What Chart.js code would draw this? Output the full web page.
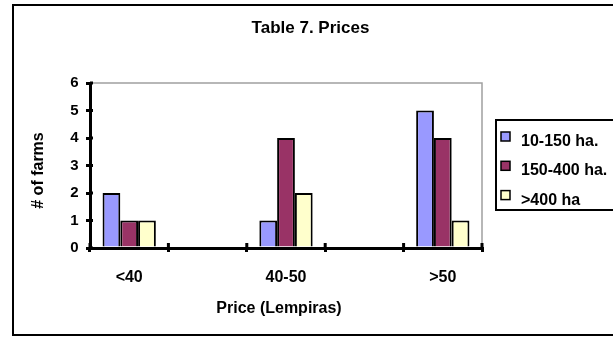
<!DOCTYPE html>
<html>
<head>
<meta charset="utf-8">
<script src="https://cdn.jsdelivr.net/npm/chart.js@4/dist/chart.umd.min.js"></script>
<style>
  html, body { margin: 0; padding: 0; background: #fff; }
  canvas { display: block; }
</style>
</head>
<body>
<canvas id="chart" width="613" height="337"></canvas>
<script>
// Chart text
const chartTitle = 'Table 7. Prices';
const xTitle = 'Price (Lempiras)';
const yTitle = '# of farms';

// Price bands (blank columns separate the three groups)
const priceBands = ['<40', '', '40-50', '', '>50'];

// Number of farms per price band, by farm size
const smallFarms  = [2, null, 1, null, 5];
const mediumFarms = [1, null, 4, null, 4];
const largeFarms  = [1, null, 2, null, 1];

const seriesNames  = ['10-150 ha.', '150-400 ha.', '>400 ha'];
const seriesColors = ['#9999FF', '#993366', '#FFFFCC'];

// Value axis range
const yMin = 0;
const yMax = 6;
const yStep = 1;

const FONT = '"Liberation Sans", Arial, Helvetica, sans-serif';

// Frame, plot border, crossing tick marks, titles and legend box
const framePlugin = {
  id: 'frame',
  afterDraw(chart) {
    const ctx = chart.ctx;
    const area = chart.chartArea;
    const xs = chart.scales.x;
    const ys = chart.scales.y;
    ctx.save();

    // outer frame
    ctx.strokeStyle = '#000';
    ctx.lineWidth = 2;
    ctx.strokeRect(13, 5, 640, 330);

    // plot area border (top and right)
    ctx.strokeStyle = '#a0a0a0';
    ctx.lineWidth = 1.5;
    ctx.beginPath();
    ctx.moveTo(area.left, area.top);
    ctx.lineTo(area.right, area.top);
    ctx.lineTo(area.right, area.bottom);
    ctx.stroke();

    // inner halves of the crossing tick marks
    ctx.strokeStyle = '#000';
    ctx.lineWidth = 3;
    ctx.beginPath();
    for (let v = yMin; v <= yMax; v += yStep) {
      const py = ys.getPixelForValue(v);
      ctx.moveTo(area.left, py);
      ctx.lineTo(area.left + 3, py);
    }
    for (let i = 0; i <= priceBands.length; i++) {
      const px = xs.getPixelForValue(i - 0.5);
      ctx.moveTo(px, area.bottom);
      ctx.lineTo(px, area.bottom - 5);
    }
    ctx.stroke();

    // chart title
    ctx.fillStyle = '#000';
    ctx.font = 'bold 17px ' + FONT;
    ctx.textAlign = 'center';
    ctx.textBaseline = 'middle';
    ctx.fillText(chartTitle, 310.5, 28.5);

    // axis titles
    ctx.font = 'bold 16px ' + FONT;
    ctx.fillText(xTitle, 279, 309);
    ctx.save();
    ctx.translate(39, 170.5);
    ctx.rotate(-Math.PI / 2);
    ctx.fillText(yTitle, 0, 0);
    ctx.restore();

    // legend
    ctx.lineWidth = 2;
    ctx.strokeStyle = '#000';
    ctx.strokeRect(496, 120, 140, 90);
    ctx.font = 'bold 16px ' + FONT;
    ctx.textAlign = 'left';
    chart.data.datasets.forEach((ds, i) => {
      const rowY = 141.5 + i * 29.3;
      ctx.fillStyle = ds.backgroundColor;
      ctx.fillRect(501, rowY - 9.5, 9, 9);
      ctx.lineWidth = 1.5;
      ctx.strokeStyle = '#000';
      ctx.strokeRect(501, rowY - 9.5, 9, 9);
      ctx.fillStyle = '#000';
      ctx.fillText(ds.label, 521, rowY);
    });

    ctx.restore();
  }
};

const makeSeries = (i, values) => ({
  label: seriesNames[i],
  data: values,
  backgroundColor: seriesColors[i],
  borderColor: '#000',
  borderWidth: 2,
  categoryPercentage: 0.68,
  barPercentage: 1.0
});

new Chart(document.getElementById('chart'), {
  type: 'bar',
  data: {
    labels: priceBands,
    datasets: [
      makeSeries(0, smallFarms),
      makeSeries(1, mediumFarms),
      makeSeries(2, largeFarms)
    ]
  },
  options: {
    responsive: false,
    devicePixelRatio: 1,
    animation: false,
    events: [],
    layout: { padding: { left: 13, top: 83, right: 131, bottom: 2 } },
    plugins: {
      legend: { display: false },
      title: { display: false },
      tooltip: { enabled: false }
    },
    scales: {
      x: {
        afterFit(scale) { scale.height = 87; },
        grid: {
          drawOnChartArea: false,
          drawTicks: true,
          tickLength: 4,
          lineWidth: 3,
          color: '#000'
        },
        border: { color: '#000', width: 3 },
        ticks: {
          color: '#000',
          font: { family: FONT, size: 16, weight: 'bold' },
          padding: 16.4,
          maxRotation: 0,
          autoSkip: false
        }
      },
      y: {
        min: yMin,
        max: yMax,
        afterFit(scale) { scale.width = 77; },
        grid: {
          drawOnChartArea: false,
          drawTicks: true,
          tickLength: 4,
          lineWidth: 3,
          color: '#000'
        },
        border: { color: '#000', width: 3 },
        ticks: {
          stepSize: yStep,
          color: '#000',
          font: { family: FONT, size: 15, weight: 'bold' },
          padding: 7.5
        }
      }
    }
  },
  plugins: [framePlugin]
});
</script>
</body>
</html>
